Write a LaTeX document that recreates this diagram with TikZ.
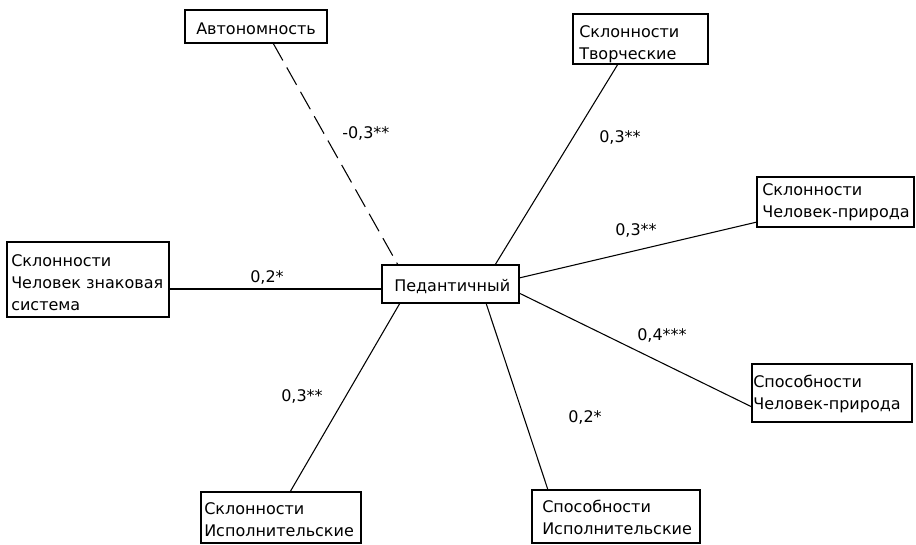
\documentclass[tikz,border=0pt]{standalone}
\usepackage{fontspec}
\setmainfont{DejaVu Sans}
\usetikzlibrary{calc}
\begin{document}
\begin{tikzpicture}[x=0.75pt,y=-0.75pt,
  box/.style={draw=black, line width=0.8pt, inner sep=0pt, outer sep=0pt, anchor=north west, rectangle},
  txt/.style={inner sep=0pt, anchor=north west, align=left, font=\fontsize{12}{16.5}\selectfont},
  lbl/.style={inner sep=0pt, anchor=base west, font=\fontsize{12}{16.5}\selectfont},
  link/.style={line width=0.8pt},
  dlink/.style={link, dash pattern=on 15pt off 6pt}]
\fill[white] (0,0) rectangle (916,544);
\useasboundingbox (0,0) rectangle (916,544);

% boxes
\node[box, minimum width=106.5pt, minimum height=24.75pt] (auto) at (185,10) {};
\node[box, minimum width=101.25pt, minimum height=37.5pt] (tvor) at (573,14) {};
\node[box, minimum width=121.5pt, minimum height=56.25pt] (left) at (7,242) {};
\node[box, minimum width=102.75pt, minimum height=28.5pt] (ped) at (382,265) {};
\node[box, minimum width=117.75pt, minimum height=37.5pt] (chp) at (757,177) {};
\node[box, minimum width=120pt, minimum height=43.5pt] (spchp) at (752,364) {};
\node[box, minimum width=120pt, minimum height=38.25pt] (skisp) at (201,492) {};
\node[box, minimum width=126pt, minimum height=39.75pt] (spisp) at (532,490) {};

% texts
\node[txt] (tauto) at (196,22.7) {Автономность};
\node[txt] (ttvor) at (579,25) {Склонности\\Творческие};
\node[txt] (tleft) at (11,254) {Склонности\\Человек знаковая\\система};
\node[txt] (tped) at (394,279) {Педантичный};
\node[txt] (tchp) at (762,183) {Склонности\\Человек-природа};
\node[txt] (tspchp) at (753,375) {Способности\\Человек-природа};
\node[txt] (tskisp) at (204,502) {Склонности\\Исполнительские};
\node[txt] (tspisp) at (542,500) {Способности\\Исполнительские};

% connectors
\draw[dlink] ($(auto.south west)+(88,0)$) -- ($(ped.north west)+(16,0)$);
\draw[link] ($(tvor.south west)+(45,0)$) -- ($(ped.north west)+(113,0)$);
\draw[link] ($(chp.north west)+(0,45)$) -- ($(ped.north east)+(0,13)$);
\draw[link] ($(spchp.north west)+(0,43)$) -- ($(ped.north east)+(0,28)$);
\draw[link] ($(spisp.north west)+(16,0)$) -- ($(ped.south west)+(104,0)$);
\draw[link] ($(skisp.north west)+(89,0)$) -- ($(ped.south west)+(18,0)$);
\draw[link] ($(left.north east)+(0,47)$) -- ($(ped.north west)+(0,24)$);

% labels
\node[lbl] (l1) at (342,138) {-0,3**};
\node[lbl] (l2) at (599,142) {0,3**};
\node[lbl] (l3) at (250,282) {0,2*};
\node[lbl] (l4) at (615,235) {0,3**};
\node[lbl] (l5) at (637,340) {0,4***};
\node[lbl] (l6) at (281,401) {0,3**};
\node[lbl] (l7) at (568,422) {0,2*};
\end{tikzpicture}
\end{document}
